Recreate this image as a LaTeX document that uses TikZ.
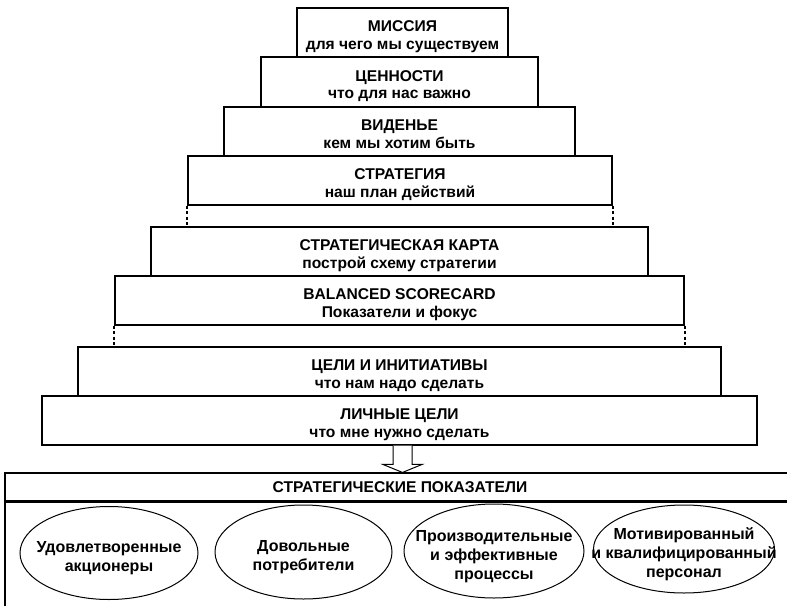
\documentclass[tikz,border=0pt]{standalone}
\usepackage{fontspec}
\setmainfont{Liberation Sans}
\usetikzlibrary{shapes.geometric,calc}
\begin{document}
\begin{tikzpicture}[x=1pt,y=-1pt,
  lvl/.style={draw=black,line width=1.1pt,fill=white,rectangle,minimum height=49pt,inner sep=0pt,
    align=center,text depth=0pt,font=\bfseries\fontsize{15.6}{17.5}\selectfont},
  lvltxt/.style={align=center,text depth=0pt,inner sep=0pt,yshift=-2.5pt,font=\bfseries\fontsize{15.6}{17.5}\selectfont},
  dashv/.style={line width=2pt,dash pattern=on 3pt off 2.5pt},
  ell/.style={draw=black,line width=1pt,ellipse,inner sep=0pt},
  etxt/.style={align=center,text depth=0pt,yshift=-3.5pt,font=\bfseries\fontsize{16}{19}\selectfont,inner sep=0pt},
  frame/.style={draw=black,line width=1.1pt,rectangle,inner sep=0pt}
]
\useasboundingbox (0,0) rectangle (787,605);
% bottom panel
\node[frame,minimum width=790pt,minimum height=28pt,font=\bfseries\fontsize{15.6}{17}\selectfont] (hdr) at (400,487) {СТРАТЕГИЧЕСКИЕ ПОКАЗАТЕЛИ};
\node[frame,minimum width=790pt,minimum height=120pt,anchor=north] (body) at (hdr.south) {};
% pyramid
\node[lvl,minimum width=211pt] (b1) at (402.5,32.5) {};
\node[lvl,minimum width=277pt,minimum height=50pt] (b2) at (399.5,82) {};
\node[lvl,minimum width=351pt] (b3) at (399.5,131.5) {};
\node[lvl,minimum width=424pt] (b4) at (400,180.5) {};
\node[lvl,minimum width=497pt] (b5) at (399.5,251.5) {};
\node[lvl,minimum width=569pt] (b6) at (399.5,300.5) {};
\node[lvl,minimum width=643pt] (b7) at (399.5,371.5) {};
\node[lvl,minimum width=715pt] (b8) at (399.5,420.5) {};
\node[lvltxt] (l1) at (b1) {МИССИЯ\\для чего мы существуем};
\node[lvltxt] (l2) at (b2) {ЦЕННОСТИ\\что для нас важно};
\node[lvltxt] (l3) at (b3) {ВИДЕНЬЕ\\кем мы хотим быть};
\node[lvltxt] (l4) at (b4) {СТРАТЕГИЯ\\наш план действий};
\node[lvltxt] (l5) at (b5) {СТРАТЕГИЧЕСКАЯ КАРТА\\построй схему стратегии};
\node[lvltxt] (l6) at (b6) {BALANCED SCORECARD\\Показатели и фокус};
\node[lvltxt] (l7) at (b7) {ЦЕЛИ И ИНИТИАТИВЫ\\что нам надо сделать};
\node[lvltxt] (l8) at (b8) {ЛИЧНЫЕ ЦЕЛИ\\что мне нужно сделать};
% dashed gaps
\draw[dashv] (b4.south west) -- (b4.south west |- b5.north);
\draw[dashv] (b4.south east) -- (b4.south east |- b5.north);
\draw[dashv] (b6.south west) -- (b6.south west |- b7.north);
\draw[dashv] (b6.south east) -- (b6.south east |- b7.north);
% block arrow
\coordinate (atop) at ($(b8.south)+(3,0)$);
\coordinate (atip) at (atop |- hdr.north);
\draw[line width=1pt,fill=white]
  ($(atop)+(-9.5,0)$) -- ($(atip)+(-9.5,-8)$) -- ($(atip)+(-19.5,-8)$) -- (atip)
  -- ($(atip)+(19.5,-8)$) -- ($(atip)+(9.5,-8)$) -- ($(atop)+(9.5,0)$);
% ellipses
\node[ell,minimum width=178pt,minimum height=93pt] (e1) at (109,553) {};
\node[ell,minimum width=177pt,minimum height=94pt] (e2) at (303.5,552) {};
\node[ell,minimum width=180pt,minimum height=94pt] (e3) at (494,551) {};
\node[ell,minimum width=181pt,minimum height=88pt] (e4) at (684,549) {};
\node[etxt] (t1) at (e1) {Удовлетворенные\\акционеры};
\node[etxt] (t2) at (e2) {Довольные\\потребители};
\node[etxt] (t3) at (e3) {Производительные\\и эффективные\\процессы};
\node[etxt] (t4) at (e4) {Мотивированный\\и квалифицированный\\персонал};
\end{tikzpicture}
\end{document}
